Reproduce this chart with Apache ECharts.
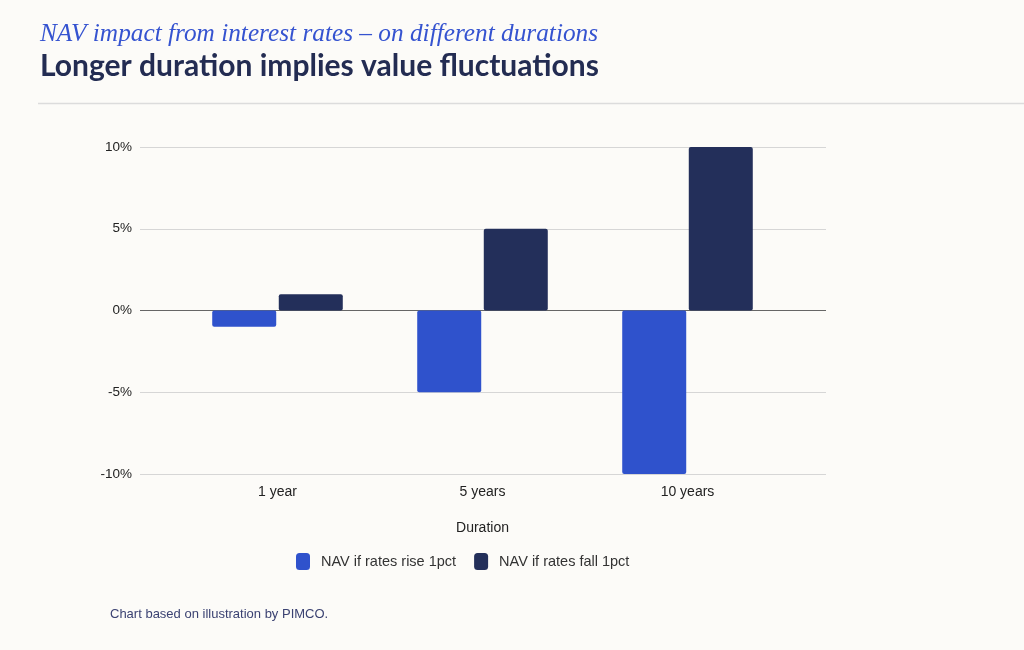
<!DOCTYPE html>
<html>
<head>
<meta charset="utf-8">
<script src="https://cdn.jsdelivr.net/npm/echarts@6/dist/echarts.min.js"></script>
<style>
html,body{margin:0;padding:0;background:#FCFBF8;}
#c{width:1024px;height:650px;}
</style>
</head>
<body>
<div id="c"></div>
<script>
const categories = ['1 year', '5 years', '10 years'];
const riseValues = [-1, -5, -10];
const fallValues = [1, 5, 10];
const seriesNames = ['NAV if rates rise 1pct', 'NAV if rates fall 1pct'];
const yTicks = [-10, -5, 0, 5, 10];

const chart = echarts.init(document.getElementById('c'));
const labelFont = 'Liberation Sans, Arial, sans-serif';
chart.setOption({
  backgroundColor: '#FCFBF8',
  animation: false,
  title: [
    {
      text: 'NAV impact from interest rates – on different durations',
      left: 35, top: 17,
      textStyle: { fontFamily: 'Liberation Serif, serif', fontStyle: 'italic', fontWeight: 'normal', fontSize: 25.3, color: '#3553D0' }
    },
    {
      text: 'Longer duration implies value fluctuations',
      left: 35, top: 46,
      textStyle: { fontFamily: 'Lato, sans-serif', fontWeight: 'bold', fontSize: 30, color: '#232C52' }
    },
    {
      text: 'Chart based on illustration by PIMCO.',
      left: 105, top: 603,
      textStyle: { fontFamily: labelFont, fontWeight: 'normal', fontSize: 13, color: '#3B4272' }
    }
  ],
  graphic: [
    { type: 'line', shape: { x1: 38, y1: 103.5, x2: 1024, y2: 103.5 }, style: { stroke: '#DCDCDC', lineWidth: 1.5 } }
  ],
  legend: {
    top: 548, left: 291,
    itemWidth: 14, itemHeight: 17, itemGap: 18,
    icon: 'roundRect',
    textStyle: { fontFamily: labelFont, fontSize: 14.5, color: '#333', padding: [0, 0, 0, 6] },
    data: seriesNames
  },
  grid: [
    { left: 140, right: 198, top: 147, bottom: 176 },
    { left: 175, right: 234, top: 147, bottom: 176 }
  ],
  xAxis: [
    { gridIndex: 0, type: 'category', data: categories, show: false },
    {
      gridIndex: 1, type: 'category', data: categories,
      axisLine: { show: false }, axisTick: { show: false },
      axisLabel: { margin: 11, fontFamily: labelFont, fontSize: 14, color: '#222' },
      name: 'Duration', nameLocation: 'middle', nameGap: 47,
      nameTextStyle: { fontFamily: labelFont, fontSize: 14, color: '#222' }
    }
  ],
  yAxis: [
    {
      gridIndex: 0, type: 'value', min: -10, max: 10, interval: 5,
      axisLine: { show: false }, axisTick: { show: false },
      axisLabel: { margin: 8, formatter: v => v + '%', fontFamily: labelFont, fontSize: 13.5, color: '#222' },
      splitLine: { lineStyle: { color: ['#D6D6D6', '#D6D6D6', '#666666', '#D6D6D6', '#D6D6D6'], width: 1 } }
    },
    {
      gridIndex: 1, type: 'value', min: -10, max: 10, interval: 5,
      show: false, splitLine: { show: false }
    }
  ],
  series: [
    {
      name: seriesNames[0], type: 'bar', xAxisIndex: 1, yAxisIndex: 1,
      data: riseValues, barWidth: 64, barGap: '4%',
      itemStyle: { color: '#2F52CC', borderRadius: 2 }
    },
    {
      name: seriesNames[1], type: 'bar', xAxisIndex: 1, yAxisIndex: 1,
      data: fallValues, barWidth: 64, barGap: '4%',
      itemStyle: { color: '#232F5A', borderRadius: 2 }
    }
  ]
});
</script>
</body>
</html>
